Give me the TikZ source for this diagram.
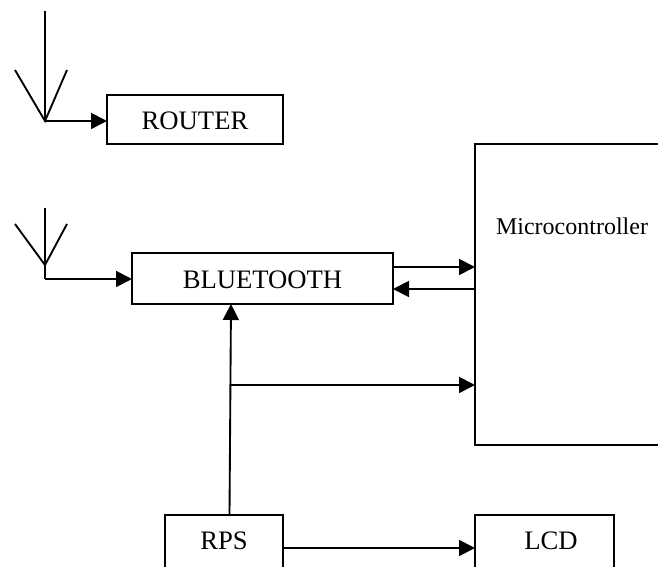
\documentclass[tikz,border=0pt]{standalone}
\usepackage{fontspec}
\setmainfont{Liberation Serif}
\usetikzlibrary{arrows.meta}
\tikzset{
  conn/.style={line width=1.4pt,-{Triangle[length=12pt,width=12pt]}},
  wire/.style={line width=1.4pt},
  blockbox/.style={draw,line width=1.4pt,inner sep=0pt,outer sep=0pt,anchor=north west},
  blocktext/.style={inner sep=0pt,font=\fontsize{20}{20}\selectfont},
  smalltext/.style={inner sep=0pt,font=\fontsize{18}{18}\selectfont}
}
\begin{document}
\begin{tikzpicture}[x=0.75pt,y=-0.75pt]
\useasboundingbox (0,0) rectangle (658,567);
\clip (0,0) rectangle (658,567);
% blocks
\node[blockbox,minimum width=132pt,minimum height=36.75pt] (router) at (107,95) {};
\node[blockbox,minimum width=195.75pt,minimum height=38.25pt] (bt) at (132,253) {};
\node[blockbox,minimum width=165pt,minimum height=225.75pt] (mcu) at (475,144) {};
\node[blockbox,minimum width=88.5pt,minimum height=52.5pt] (rps) at (165,515) {};
\node[blockbox,minimum width=104.25pt,minimum height=52.5pt] (lcd) at (475,515) {};
% texts
\node[blocktext] (routertext) at (195,121) {ROUTER};
\node[blocktext] (bttext) at (262.5,280) {BLUETOOTH};
\node[smalltext] (mcutext) at (572,226) {Microcontroller};
\node[blocktext] (rpstext) at (224,541) {RPS};
\node[blocktext] (lcdtext) at (551,541) {LCD};
% antenna 1
\coordinate (a1foot) at (45,121);
\coordinate (a1top) at (45,11);
\coordinate (a1l) at (15,70);
\coordinate (a1r) at (67,70);
\draw[wire] (a1top) -- (a1foot);
\draw[wire] (a1l) -- (a1foot) -- (a1r);
\draw[conn] (a1foot) -- (router.west |- a1foot);
% antenna 2
\coordinate (a2top) at (45,208);
\coordinate (a2joint) at (45,265);
\coordinate (a2foot) at (45,279);
\coordinate (a2l) at (15,224);
\coordinate (a2r) at (67,224);
\draw[wire] (a2l) -- (a2joint) -- (a2r);
\draw[wire] (a2top) -- (a2foot);
\draw[conn] (a2foot) -- (bt.west |- a2foot);
% bluetooth and microcontroller
\coordinate (txy) at (475,267);
\coordinate (rxy) at (475,289);
\draw[conn] (bt.east |- txy) -- (mcu.west |- txy);
\draw[conn] (mcu.west |- rxy) -- (bt.east |- rxy);
% power
\coordinate (pwrbot) at (229.5,515);
\coordinate (pwrtop) at (231,304);
\coordinate (pwrjoin) at (231,385);
\draw[conn] (pwrbot) -- (pwrtop);
\draw[conn] (pwrjoin) -- (mcu.west |- pwrjoin);
\coordinate (lcdy) at (283,548);
\draw[conn] (rps.east |- lcdy) -- (lcd.west |- lcdy);
\end{tikzpicture}
\end{document}
